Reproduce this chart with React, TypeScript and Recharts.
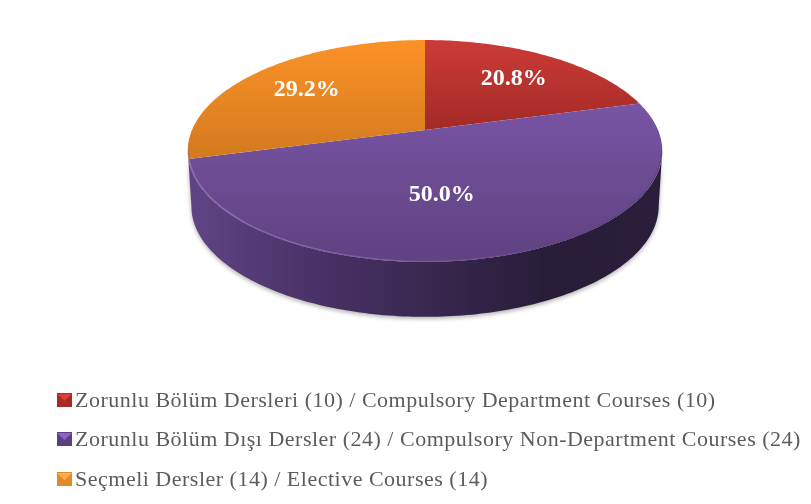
import React from "react";
import { Legend, Pie, PieChart } from "recharts";

const names = [
  "Zorunlu Bölüm Dersleri (10) / Compulsory Department Courses (10)",
  "Zorunlu Bölüm Dışı Dersler (24) / Compulsory Non-Department Courses (24)",
  "Seçmeli Dersler (14) / Elective Courses (14)",
];
const values = [10, 24, 14];
const topFills = ["url(#topRed)", "url(#topPurple)", "url(#topOrange)"];
const sideFills = ["#7d1f1c", "url(#sidePurple)", "#b4660f"];
const swatchDark = ["#a82a26", "#5a3f85", "#e08a2a"];
const swatchLight = ["#d8413c", "#8a66c0", "#f8b24a"];

const data = names.map((name, i) => ({ name, value: values[i], fill: topFills[i], index: i }));

const FONT = '"Liberation Serif", serif';
const SQUASH = 0.459;
const TILT = 0.189;
const DEPTH = 55;
const BOTTOM_SCALE = 0.985;
// where the outline turns from the top face to the front wall
const WALL_FROM = 100.9;
const WALL_TO = 259.1;

function project(cx: number, cy: number, r: number, theta: number, k = 1) {
  const rad = (theta * Math.PI) / 180;
  const u = Math.sin(rad) * k;
  const v = Math.cos(rad) * k;
  const den = 1 + TILT * v;
  return { x: cx + (r * u) / den, y: cy - (r * SQUASH * v) / den };
}

function arcPoints(cx: number, cy: number, r: number, from: number, to: number) {
  const pts = [];
  const steps = Math.max(2, Math.ceil(Math.abs(to - from)));
  for (let i = 0; i <= steps; i++) {
    pts.push(project(cx, cy, r, from + ((to - from) * i) / steps));
  }
  return pts;
}

const toPath = (pts: { x: number; y: number }[]) =>
  pts.map((p, i) => `${i ? "L" : "M"}${p.x.toFixed(2)},${p.y.toFixed(2)}`).join(" ");

function TopSector(props: any) {
  const { cx, cy, outerRadius, startAngle, endAngle, fill } = props;
  const pts = arcPoints(cx, cy, outerRadius, 90 - startAngle, 90 - endAngle);
  return <path d={`M${cx},${cy} ${toPath(pts).replace("M", "L")} Z`} fill={fill} stroke="none" />;
}

function RimSector(props: any) {
  const { cx, cy, outerRadius, startAngle, endAngle, index } = props;
  const from = Math.max(90 - startAngle, WALL_FROM);
  const to = Math.min(90 - endAngle, WALL_TO);
  if (to <= from) return <g />;
  const pts = arcPoints(cx, cy, outerRadius, from, to);
  const low = pts
    .slice()
    .reverse()
    .map((p) => ({ x: cx + (p.x - cx) * BOTTOM_SCALE, y: p.y + DEPTH }));
  return (
    <g>
      <path
        d={`${toPath(pts)} ${toPath(low).replace("M", "L")} Z`}
        fill={sideFills[index]}
        style={{ filter: "drop-shadow(0 2px 2px rgba(0,0,0,0.3))" }}
      />
    </g>
  );
}

// thin light edge along the front of the top face, drawn over it
function RimLine(props: any) {
  const { cx, cy, outerRadius, startAngle, endAngle } = props;
  const from = Math.max(90 - startAngle, WALL_FROM);
  const to = Math.min(90 - endAngle, WALL_TO);
  if (to <= from) return <g />;
  const pts = arcPoints(cx, cy, outerRadius - 1, from, to);
  return <path d={toPath(pts)} fill="none" stroke="url(#rimLine)" strokeWidth={1.2} />;
}

function renderLabel(props: any) {
  const { cx, cy, outerRadius, midAngle, percent } = props;
  const big = percent >= 0.5;
  const p = project(cx, cy, outerRadius, 90 - midAngle, big ? 0.55 : 0.69);
  return (
    <text
      x={p.x - (big ? 20 : 0)}
      y={p.y}
      fill="#fff"
      fontFamily={FONT}
      fontSize={24}
      fontWeight="bold"
      textAnchor="middle"
      dominantBaseline="central"
    >
      {(percent * 100).toFixed(1)}%
    </text>
  );
}

function LegendList() {
  return (
    <div style={{ fontFamily: FONT, fontSize: 22, letterSpacing: 0.5, color: "#5c5c5c", whiteSpace: "nowrap" }}>
      {names.map((name, i) => (
        <div key={name} style={{ display: "flex", alignItems: "center", height: 39.5 }}>
          <svg width={15} height={14} style={{ marginRight: 3 }}>
            <rect width={15} height={14} fill={swatchDark[i]} />
            <path d="M0,1 L15,1 L7.5,8 Z" fill={swatchLight[i]} />
          </svg>
          <span>{name}</span>
        </div>
      ))}
    </div>
  );
}

export default function App() {
  return (
    <div
      style={{
        position: "absolute",
        left: 0,
        top: 0,
        width: 811,
        height: 504,
        background: "#fff",
        filter: "blur(0.4px)",
      }}
    >
      <PieChart width={811} height={504} margin={{ top: 0, right: 0, bottom: 0, left: 0 }}>
        <defs>
          <linearGradient id="topRed" gradientUnits="userSpaceOnUse" x1="0" y1="40" x2="0" y2="130">
            <stop offset="0" stopColor="#cc3b37" />
            <stop offset="1" stopColor="#a32a26" />
          </linearGradient>
          <linearGradient id="topOrange" gradientUnits="userSpaceOnUse" x1="0" y1="40" x2="0" y2="160">
            <stop offset="0" stopColor="#fb9227" />
            <stop offset="1" stopColor="#d27a1f" />
          </linearGradient>
          <linearGradient id="topPurple" gradientUnits="userSpaceOnUse" x1="0" y1="105" x2="0" y2="262">
            <stop offset="0" stopColor="#7854a4" />
            <stop offset="1" stopColor="#5f4280" />
          </linearGradient>
          <linearGradient id="sidePurple" gradientUnits="userSpaceOnUse" x1="188" y1="0" x2="662" y2="0">
            <stop offset="0" stopColor="#604585" />
            <stop offset="0.25" stopColor="#4a3369" />
            <stop offset="0.5" stopColor="#392850" />
            <stop offset="0.75" stopColor="#281d39" />
            <stop offset="1" stopColor="#2a1e3b" />
          </linearGradient>
          <linearGradient id="rimLine" gradientUnits="userSpaceOnUse" x1="188" y1="0" x2="662" y2="0">
            <stop offset="0" stopColor="#8a6fb2" />
            <stop offset="0.5" stopColor="#7558a0" />
            <stop offset="0.8" stopColor="#5f4280" />
            <stop offset="1" stopColor="#5f4280" />
          </linearGradient>
        </defs>
        <Pie
          data={data}
          dataKey="value"
          nameKey="name"
          cx={425}
          cy={130}
          outerRadius={233}
          startAngle={90}
          endAngle={-270}
          legendType="none"
          shape={RimSector}
          isAnimationActive={false}
        />
        <Pie
          data={data}
          dataKey="value"
          nameKey="name"
          cx={425}
          cy={130}
          outerRadius={233}
          startAngle={90}
          endAngle={-270}
          shape={TopSector}
          isAnimationActive={false}
        />
        <Pie
          data={data}
          dataKey="value"
          nameKey="name"
          cx={425}
          cy={130}
          outerRadius={233}
          startAngle={90}
          endAngle={-270}
          legendType="none"
          shape={RimLine}
          label={renderLabel}
          labelLine={false}
          isAnimationActive={false}
        />
        <Legend
          layout="vertical"
          content={<LegendList />}
          wrapperStyle={{ position: "absolute", left: 57, top: 380, width: 754, bottom: "auto" }}
        />
      </PieChart>
    </div>
  );
}
